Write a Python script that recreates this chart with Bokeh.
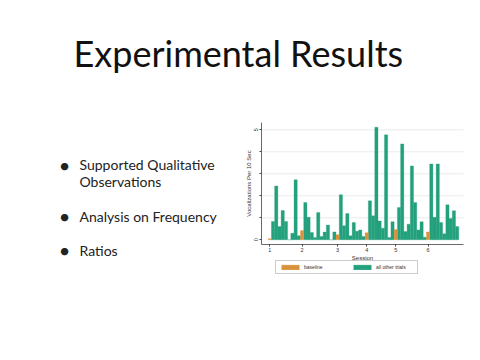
from bokeh.plotting import figure
from bokeh.models import (Label, Legend, LegendItem, FixedTicker, Range1d,
                          LinearAxis)
from bokeh.embed import file_html
from bokeh.resources import INLINE

# ---- data ----
trial = list(range(1, 60))
vocal_rate = [0.05, 0.83, 2.45, 0.60, 1.33, 0.83, 0.00, 0.30, 2.73, 0.18,
              0.42, 1.70, 1.03, 0.33, 0.10, 1.24, 0.15, 0.35, 0.67, 0.00,
              0.36, 0.23, 2.05, 0.64, 1.20, 0.18, 0.79, 0.39, 0.45, 0.15,
              0.32, 1.77, 1.09, 5.12, 0.86, 0.53, 4.77, 0.10, 0.82, 0.47,
              1.47, 4.36, 0.38, 0.71, 3.36, 1.70, 0.45, 0.82, 0.12, 0.36,
              3.45, 1.02, 3.45, 0.79, 0.27, 1.59, 0.97, 1.32, 0.60]
baseline_trials = [1, 11, 22, 31, 40, 50]
session_labels = ["1", "2", "3", "4", "5", "6"]
y_ticks = [0, 1, 2, 3, 4, 5]
y_tick_labels = ["0", "", "", "", "", "5"]
grid_levels = [1, 2, 3, 4, 5]
bullets = ["Supported Qualitative", "Observations", "Analysis on Frequency", "Ratios"]
slide_title = "Experimental Results"

base_x = [t for t in trial if t in baseline_trials]
base_y = [v for t, v in zip(trial, vocal_rate) if t in baseline_trials]
other_x = [t for t in trial if t not in baseline_trials]
other_y = [v for t, v in zip(trial, vocal_rate) if t not in baseline_trials]

ORANGE = "#D8923C"
GREEN = "#23A07C"
W, H = 464, 344
ML, MB = 30, 30   # reserved borders (frame = rest of the canvas)

# chart placement on the slide (pixels) -> chart data ranges
BAR_PX, X1_PX = 3.23, 269.3        # px per trial, px of trial 1
UNIT_PX, Y0_PX = 22.0, 239.3       # px per unit, px of value 0
def tx(px):
    return 1 + (px - X1_PX) / BAR_PX
def vy(py):
    return (Y0_PX - py) / UNIT_PX

p = figure(width=W, height=H, output_backend="svg", toolbar_location=None,
           x_range=Range1d(ML, W), y_range=Range1d(MB, H),
           x_axis_location=None, y_axis_location=None,
           min_border_left=ML, min_border_bottom=MB, min_border_top=0,
           min_border_right=0)
p.outline_line_color = None
p.background_fill_color = "white"
p.border_fill_color = "white"
p.grid.visible = False
p.extra_x_ranges = {"chart": Range1d(tx(ML), tx(W))}
p.extra_y_ranges = {"chart": Range1d(vy(H - MB), vy(0))}

x_lo, x_hi = tx(261), tx(W - 1)
y_lo, y_hi = vy(244), vy(122)

# grid lines
p.segment(x0=[x_lo] * len(grid_levels), x1=[x_hi] * len(grid_levels),
          y0=grid_levels, y1=grid_levels, line_color="#e6e6e6", line_width=0.8,
          x_range_name="chart", y_range_name="chart")

r_other = p.vbar(x=other_x, top=other_y, bottom=0, width=1.0,
                 fill_color=GREEN, line_color=GREEN, line_width=0.3,
                 x_range_name="chart", y_range_name="chart")
r_base = p.vbar(x=base_x, top=base_y, bottom=0, width=1.0,
                fill_color=ORANGE, line_color=ORANGE, line_width=0.3,
                x_range_name="chart", y_range_name="chart")

chart_font = "Liberation Sans"
xaxis = LinearAxis(x_range_name="chart", y_range_name="chart",
                   fixed_location=y_lo, bounds=(x_lo, x_hi),
                   ticker=FixedTicker(ticks=baseline_trials),
                   major_label_overrides={t: s for t, s in zip(baseline_trials, session_labels)},
                   axis_label="Session")
yaxis = LinearAxis(x_range_name="chart", y_range_name="chart",
                   fixed_location=x_lo, bounds=(y_lo, y_hi),
                   ticker=FixedTicker(ticks=y_ticks),
                   major_label_overrides={t: s for t, s in zip(y_ticks, y_tick_labels)},
                   major_label_orientation="vertical",
                   axis_label="Vocalizations Per 10 Sec")
for ax in (xaxis, yaxis):
    ax.axis_line_color = "#444444"
    ax.axis_line_width = 0.8
    ax.major_tick_line_color = "#444444"
    ax.major_tick_out = 2
    ax.major_tick_in = 0
    ax.minor_tick_line_color = None
    ax.major_label_text_font = chart_font
    ax.major_label_text_font_size = "5.5px"
    ax.major_label_text_color = "#333333"
    ax.axis_label_text_font = chart_font
    ax.axis_label_text_font_size = "6px"
    ax.axis_label_text_font_style = "normal"
    ax.axis_label_text_color = "#333333"
    ax.major_label_standoff = 1
    ax.axis_label_standoff = 0
p.add_layout(xaxis, "below")
p.add_layout(yaxis, "left")

legend = Legend(items=[LegendItem(label="baseline", renderers=[r_base]),
                       LegendItem(label="all other trials", renderers=[r_other])],
                location=(275 - ML, (H - MB) - 274.3), orientation="horizontal",
                glyph_width=22, glyph_height=6, label_height=6, label_width=38,
                label_standoff=3, spacing=9, padding=3, margin=0,
                label_text_font=chart_font, label_text_font_size="5px",
                label_text_color="#333333", border_line_color="#999999",
                border_line_width=0.6, background_fill_alpha=1.0)
p.add_layout(legend)

# slide texts (data = canvas pixels, y measured upward)
p.add_layout(Label(x=73, y=H - 52.5, text=slide_title, text_font="Lato",
                   text_font_size="36px", text_color="#111111",
                   text_baseline="alphabetic"))
bullet_base = [164.2, 180.5, 215.5, 249.8]
for txt, by in zip(bullets, bullet_base):
    p.add_layout(Label(x=79, y=H - by, text=txt, text_font="Lato",
                       text_font_size="14px", text_color="#222222",
                       text_baseline="alphabetic"))
for by in (bullet_base[0], bullet_base[2], bullet_base[3]):
    p.add_layout(Label(x=64, y=H - by, text="\u2022", text_font="Lato",
                       text_font_size="20px", text_color="#222222",
                       text_align="center", text_baseline="alphabetic"))

open("out.html", "w").write(file_html(p, INLINE))
